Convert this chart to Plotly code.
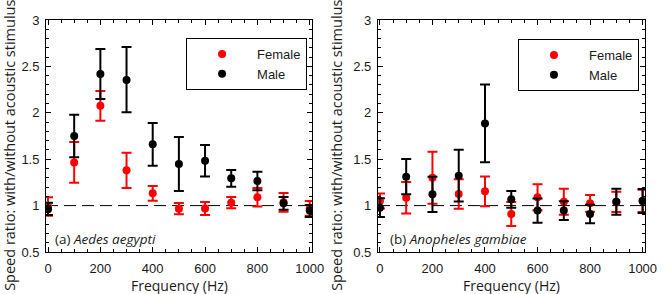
import plotly.graph_objects as go

W, H = 668, 294
TITLE_FONT = "Open Sans"
TICK_FONT = "Liberation Sans"
TOP, BOT = 20, 252  # plot area top / bottom in pixels

freq = [0, 100, 200, 300, 400, 500, 600, 700, 800, 900, 1000]

# (a) Aedes aegypti
aa_female = [0.99, 1.465, 2.075, 1.38, 1.132, 0.967, 0.97, 1.032, 1.089, 1.035, 0.97]
aa_female_err = [0.10, 0.22, 0.16, 0.19, 0.08, 0.06, 0.07, 0.06, 0.10, 0.10, 0.08]
aa_male = [0.96, 1.75, 2.418, 2.353, 1.66, 1.448, 1.484, 1.294, 1.265, 1.024, 0.946]
aa_male_err_plus = [0.07, 0.23, 0.27, 0.356, 0.23, 0.29, 0.17, 0.09, 0.10, 0.07, 0.06]
aa_male_err_minus = [0.06, 0.23, 0.27, 0.348, 0.23, 0.29, 0.17, 0.09, 0.10, 0.07, 0.07]

# (b) Anopheles gambiae
ag_female = [1.05, 1.085, 1.30, 1.125, 1.154, 0.909, 1.09, 1.042, 1.025, 1.04, 1.05]
ag_female_err = [0.08, 0.17, 0.28, 0.16, 0.16, 0.13, 0.14, 0.14, 0.09, 0.11, 0.12]
ag_male = [0.978, 1.312, 1.121, 1.323, 1.886, 1.068, 0.946, 0.946, 0.909, 1.042, 1.05]
ag_male_err = [0.10, 0.19, 0.19, 0.28, 0.42, 0.09, 0.13, 0.10, 0.10, 0.14, 0.13]

ytitle = "Speed ratio: with/without acoustic stimulus"
xtitle = "Frequency (Hz)"


def py(p):
    """pixel row -> paper y"""
    return (BOT - p) / (BOT - TOP)


fig = go.Figure()


def add_series(x, y, ep, em, color, name, xa, ya, legend):
    fig.add_trace(go.Scatter(
        x=x, y=y, mode="markers", name=name,
        marker=dict(color=color, size=8, line=dict(width=0)),
        error_y=dict(type="data", array=ep, arrayminus=em, symmetric=False,
                     color=color, thickness=2, width=5),
        xaxis=xa, yaxis=ya, legend=legend, showlegend=True,
    ))


add_series(freq, aa_female, aa_female_err, aa_female_err, "#ff0000", "Female", "x", "y", "legend")
add_series(freq, aa_male, aa_male_err_plus, aa_male_err_minus, "#000000", "Male", "x", "y", "legend")
add_series(freq, ag_female, ag_female_err, ag_female_err, "#ff0000", "Female", "x2", "y2", "legend2")
add_series(freq, ag_male, ag_male_err, ag_male_err, "#000000", "Male", "x2", "y2", "legend2")

TXT = "#1a1a1a"
axis_common = dict(
    showline=True, linecolor="black", linewidth=1, mirror="ticks",
    ticks="inside", ticklen=5, tickwidth=1, tickcolor="black",
    showgrid=False, zeroline=False,
    tickfont=dict(family=TICK_FONT, size=13, color=TXT),
)
xcommon = dict(axis_common, range=[-7.5, 1010], tickvals=[0, 200, 400, 600, 800, 1000],
               ticklabelstandoff=4,
               minor=dict(dtick=50, tick0=0, ticks="inside", ticklen=3, tickcolor="black", showgrid=False))
ycommon = dict(axis_common, range=[0.5, 3], tickvals=[0.5, 1, 1.5, 2, 2.5, 3],
               ticktext=["0.5", "1", "1.5", "2", "2.5", "3"], ticklabelstandoff=3,
               minor=dict(dtick=0.1, tick0=0.5, ticks="inside", ticklen=3, tickcolor="black", showgrid=False))

dL = [45 / W, 317 / W]
dR = [384 / W, 657 / W]

legend_common = dict(xanchor="left", yanchor="top", bordercolor="black", borderwidth=1,
                     bgcolor="white", font=dict(family=TICK_FONT, size=13, color=TXT),
                     itemwidth=60, tracegroupgap=0)

fig.update_layout(
    width=W, height=H,
    margin=dict(l=0, r=0, t=TOP, b=H - BOT),
    paper_bgcolor="white", plot_bgcolor="white",
    font=dict(family=TITLE_FONT, size=14, color=TXT),
    xaxis=dict(xcommon, domain=dL, anchor="y"),
    yaxis=dict(ycommon, domain=[0, 1], anchor="x"),
    xaxis2=dict(xcommon, domain=dR, anchor="y2"),
    yaxis2=dict(ycommon, domain=[0, 1], anchor="x2"),
    legend=dict(legend_common, x=188 / W, y=py(38)),
    legend2=dict(legend_common, x=527 / W, y=py(39)),
    showlegend=True,
)

for xr, yr in (("x domain", "y"), ("x2 domain", "y2")):
    fig.add_shape(type="line", xref=xr, yref=yr, x0=0, x1=1, y0=1, y1=1,
                  line=dict(color="black", width=1, dash="12px,6px"), layer="below")

annos = [
    dict(x=7 / W, y=py(145), text=ytitle, textangle=-90, size=14.5),
    dict(x=(334 + 7) / W, y=py(145), text=ytitle, textangle=-90, size=14.5),
    dict(x=(dL[0] + dL[1]) / 2, y=py(285), text=xtitle, size=14),
    dict(x=(dR[0] + dR[1]) / 2, y=py(285), text=xtitle, size=14),
]
for a in annos:
    size = a.pop("size")
    fig.add_annotation(xref="paper", yref="paper", showarrow=False,
                       xanchor="center", yanchor="middle",
                       font=dict(family=TITLE_FONT, size=size, color=TXT), **a)

fig.add_annotation(xref="paper", yref="paper", x=52 / W, y=py(239), showarrow=False,
                   xanchor="left", yanchor="middle", text="(a) <i>Aedes aegypti</i>",
                   font=dict(family=TITLE_FONT, size=13.5, color=TXT))
fig.add_annotation(xref="paper", yref="paper", x=394 / W, y=py(239), showarrow=False,
                   xanchor="left", yanchor="middle", text="(b) <i>Anopheles gambiae</i>",
                   font=dict(family=TITLE_FONT, size=13.5, color=TXT))

fig.write_html("out.html", config={"displayModeBar": False},
               post_script="document.body.style.margin='0px';")
